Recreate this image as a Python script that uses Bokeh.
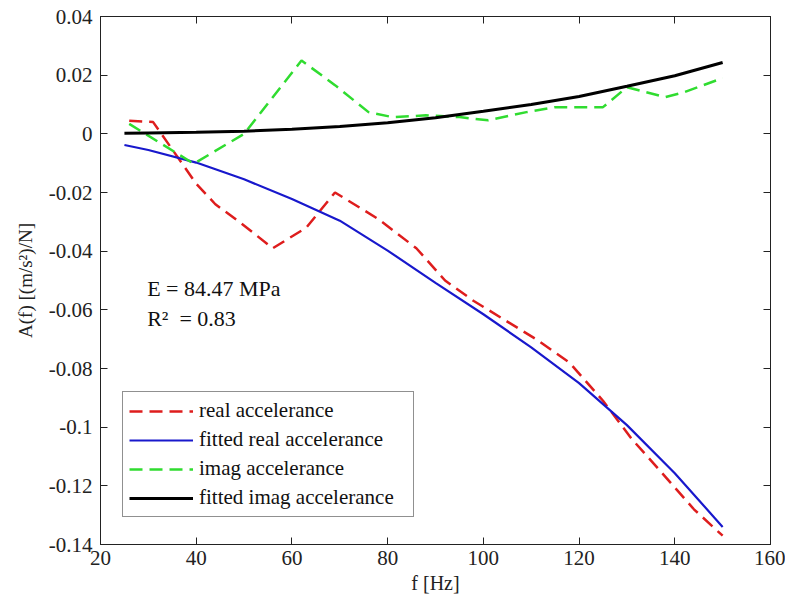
from bokeh.plotting import figure
from bokeh.models import Range1d, LinearAxis, FixedTicker, Legend, LegendItem, Label, CustomJSTickFormatter
from bokeh.embed import file_html
from bokeh.resources import INLINE

# ---- data ----
freq_real = [26, 31, 34, 40, 44, 49, 56, 63, 69, 78, 86, 92, 98, 105, 111, 118, 125, 131, 137, 144, 150]
real_acc = [0.0045, 0.0040, -0.0030, -0.0170, -0.0240, -0.0300, -0.0390, -0.0320, -0.0200, -0.0290,
            -0.0390, -0.0500, -0.0570, -0.0640, -0.0700, -0.0780, -0.0910, -0.1040, -0.1150, -0.1280, -0.1370]

freq_imag = [26, 39.5, 50, 62, 69, 76, 81, 88, 95, 101, 109, 115, 125, 130, 138, 142, 150]
imag_acc = [0.0034, -0.0102, 0.0000, 0.0250, 0.0166, 0.0074, 0.0057, 0.0063, 0.0057, 0.0046,
            0.0074, 0.0091, 0.0091, 0.0159, 0.0125, 0.0142, 0.0190]

fit_freq = [25, 30, 40, 50, 60, 70, 80, 90, 100, 110, 120, 130, 140, 150]
fit_real = [-0.0038, -0.0055, -0.0098, -0.0155, -0.0222, -0.0296, -0.0398, -0.0508, -0.0615,
            -0.0728, -0.0850, -0.0993, -0.1157, -0.1340]
fit_imag = [0.0002, 0.0003, 0.0005, 0.0009, 0.0016, 0.0025, 0.0038, 0.0055, 0.0077,
            0.0100, 0.0127, 0.0162, 0.0198, 0.0243]

series_names = ["real accelerance", "fitted real accelerance", "imag accelerance", "fitted imag accelerance"]

x_ticks = [20, 40, 60, 80, 100, 120, 140, 160]
x_tick_labels = ["20", "40", "60", "80", "100", "120", "140", "160"]
y_ticks = [0.04, 0.02, 0.0, -0.02, -0.04, -0.06, -0.08, -0.1, -0.12, -0.14]
y_tick_labels = ["0.04", "0.02", "0", "-0.02", "-0.04", "-0.06", "-0.08", "-0.1", "-0.12", "-0.14"]

annotation_lines = ["E = 84.47 MPa", "R\u00b2\u00a0\u00a0= 0.83"]
annotation_x = 29.75
annotation_y = [-0.0526, -0.0631]

x_label = "f [Hz]"
y_label = "A(f) [(m/s\u00b2)/N]"

# ---- styling ----
FONT = "Liberation Serif"
RED = "#de1d1d"
BLUE = "#1818cc"
GREEN = "#30dc30"
BLACK = "#000000"
AX = "#222222"

p = figure(width=785, height=604,
           x_range=Range1d(20, 160), y_range=Range1d(-0.14, 0.04),
           output_backend="svg", toolbar_location=None,
           min_border_left=100, min_border_right=15, min_border_top=16, min_border_bottom=60,
           x_axis_location=None, y_axis_location=None)
p.grid.visible = False
p.outline_line_color = AX
p.outline_line_width = 1
p.background_fill_color = "white"
p.border_fill_color = "white"

def style_axis(ax):
    ax.major_tick_in = 7
    ax.major_tick_out = 0
    ax.minor_tick_in = 0
    ax.minor_tick_out = 0
    ax.axis_line_color = AX
    ax.major_tick_line_color = AX
    ax.major_label_text_font = FONT
    ax.major_label_text_color = AX
    ax.axis_label_text_font = FONT
    ax.axis_label_text_font_style = "normal"
    ax.axis_label_text_color = AX

xb = LinearAxis(ticker=FixedTicker(ticks=x_ticks))
style_axis(xb)
xb.major_label_overrides = {t: l for t, l in zip(x_ticks, x_tick_labels)}
xb.major_label_text_font_size = "21px"
xb.major_label_standoff = 6
xb.axis_label = x_label
xb.axis_label_text_font_size = "20px"
xb.axis_label_standoff = 4
p.add_layout(xb, "below")

yl = LinearAxis(ticker=FixedTicker(ticks=y_ticks))
style_axis(yl)
yl.major_label_overrides = {t: l for t, l in zip(y_ticks, y_tick_labels)}
yl.major_label_text_font_size = "21px"
yl.major_label_standoff = 8
yl.axis_label = y_label
yl.axis_label_text_font_size = "19px"
yl.axis_label_standoff = 10
p.add_layout(yl, "left")

blank = CustomJSTickFormatter(code="return ''")
xt = LinearAxis(ticker=FixedTicker(ticks=x_ticks), formatter=blank)
style_axis(xt)
xt.major_label_standoff = 0
xt.major_label_text_font_size = "0px"
p.add_layout(xt, "above")

yr = LinearAxis(ticker=FixedTicker(ticks=y_ticks), formatter=blank)
style_axis(yr)
yr.major_label_standoff = 0
yr.major_label_text_font_size = "0px"
p.add_layout(yr, "right")

r_real = p.line(freq_real, real_acc, line_color=RED, line_width=2.5, line_dash="13 7")
r_fr = p.line(fit_freq, fit_real, line_color=BLUE, line_width=2.2)
r_imag = p.line(freq_imag, imag_acc, line_color=GREEN, line_width=2.5, line_dash="13 7")
r_fi = p.line(fit_freq, fit_imag, line_color=BLACK, line_width=3)

legend = Legend(items=[LegendItem(label=series_names[0], renderers=[r_real]),
                       LegendItem(label=series_names[1], renderers=[r_fr]),
                       LegendItem(label=series_names[2], renderers=[r_imag]),
                       LegendItem(label=series_names[3], renderers=[r_fi])],
                location=(22, 27))
legend.label_text_font = FONT
legend.label_text_font_size = "21px"
legend.label_text_color = "#111111"
legend.glyph_width = 64
legend.glyph_height = 20
legend.label_height = 20
legend.label_width = 208
legend.label_standoff = 6
legend.spacing = 4
legend.padding = 6
legend.margin = 0
legend.border_line_color = AX
legend.border_line_width = 1
legend.background_fill_color = "white"
legend.background_fill_alpha = 1.0
p.add_layout(legend, "center")

for txt, yy in zip(annotation_lines, annotation_y):
    p.add_layout(Label(x=annotation_x, y=yy, text=txt, text_font=FONT, text_font_size="22px",
                       text_color="#111111", text_baseline="alphabetic", text_align="left"))

open("out.html", "w").write(file_html(p, INLINE))
